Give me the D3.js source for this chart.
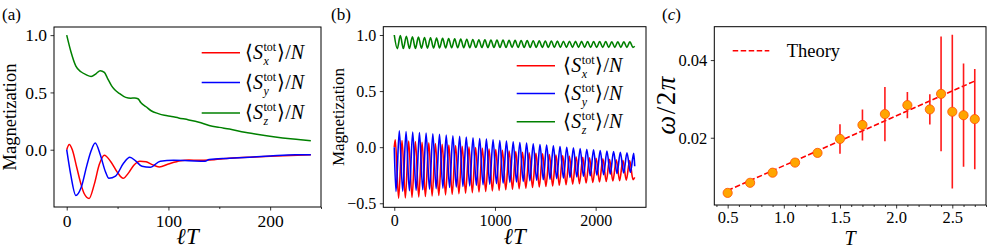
<!DOCTYPE html>
<html>
<head>
<meta charset="utf-8">
<script src="https://cdn.jsdelivr.net/npm/d3@7"></script>
<style>
  body { margin: 0; background: #fff; }
  svg { display: block; font-family: "Liberation Serif", "Times New Roman", serif; }
  text { font-family: "Liberation Serif", "Times New Roman", serif; fill: #000; }
</style>
</head>
<body>
<svg id="fig" width="996" height="249"></svg>
<script>
// ---- panel (a): magnetization vs lT, short run ----
const aSxTime = [0, 2.5, 5.5, 10, 14, 17, 22, 27, 32, 37, 43, 50, 55.5, 61, 66, 72, 78, 84, 91, 100, 112, 120, 130, 140, 160, 180, 200, 220, 240];
const aSx = [0, 0.045, 0.0, -0.16, -0.3, -0.38, -0.425, -0.305, -0.13, -0.048, -0.10, -0.20, -0.25, -0.20, -0.135, -0.10, -0.105, -0.13, -0.15, -0.125, -0.097, -0.09, -0.092, -0.09, -0.075, -0.065, -0.057, -0.05, -0.045];
const aSyTime = [0, 4, 9, 14, 20, 24, 28, 33, 38, 41.5, 48, 56, 62, 68, 74, 82, 92, 105, 120, 136, 140, 160, 180, 200, 225, 240];
const aSy = [0, -0.22, -0.40, -0.335, -0.13, -0.01, 0.058, -0.044, -0.19, -0.25, -0.23, -0.116, -0.065, -0.10, -0.145, -0.154, -0.10, -0.093, -0.096, -0.10, -0.085, -0.075, -0.065, -0.055, -0.045, -0.045];
const aSzTime = [0, 4, 9, 14, 19, 24, 29, 33, 37, 40, 44, 47, 52, 58, 63, 67, 70, 73, 78, 83, 90, 96, 103, 110, 120, 130, 140, 150, 160, 175, 190, 205, 220, 230, 240];
const aSz = [1.0, 0.86, 0.73, 0.68, 0.655, 0.64, 0.665, 0.69, 0.675, 0.625, 0.56, 0.525, 0.49, 0.457, 0.45, 0.452, 0.445, 0.41, 0.375, 0.34, 0.315, 0.30, 0.29, 0.277, 0.26, 0.24, 0.212, 0.195, 0.18, 0.152, 0.13, 0.111, 0.096, 0.088, 0.079];

// ---- panel (b): long run, turning points of the oscillations ----
const bSxTimes = [10, 43, 77, 110, 143, 176, 210, 243, 276, 309,
  343, 376, 409, 442, 476, 509, 542, 575, 609, 642,
  675, 708, 742, 775, 808, 841, 875, 908, 941, 974,
  1008, 1041, 1074, 1107, 1141, 1174, 1207, 1240, 1274, 1307,
  1340, 1373, 1407, 1440, 1473, 1506, 1540, 1573, 1606, 1639,
  1673, 1706, 1739, 1772, 1806, 1839, 1872, 1905, 1939, 1972,
  2005, 2038, 2072, 2105, 2138, 2171, 2205, 2238, 2271, 2304,
  2338, 2371];
const bSxPeaks = [0.065, 0.06, 0.055, 0.05, 0.044, 0.038, 0.032, 0.026, 0.02, 0.014,
  0.008, 0.002, -0.004, -0.01, -0.016, -0.022, -0.028, -0.034, -0.04, -0.045,
  -0.05, -0.055, -0.06, -0.065, -0.07, -0.075, -0.08, -0.085, -0.09, -0.095,
  -0.1, -0.104, -0.108, -0.112, -0.116, -0.12];
const bSxTroughs = [-0.455, -0.452, -0.448, -0.444, -0.44, -0.435, -0.43, -0.425, -0.42, -0.415,
  -0.41, -0.405, -0.40, -0.395, -0.39, -0.385, -0.38, -0.375, -0.37, -0.365,
  -0.36, -0.355, -0.35, -0.345, -0.34, -0.335, -0.33, -0.325, -0.32, -0.315,
  -0.31, -0.306, -0.302, -0.298, -0.294, -0.29];
const bSyTimes = [17, 50, 84, 117, 150, 183, 217, 250, 283, 316,
  350, 383, 416, 449, 483, 516, 549, 582, 616, 649,
  682, 715, 749, 782, 815, 848, 882, 915, 948, 981,
  1015, 1048, 1081, 1114, 1148, 1181, 1214, 1247, 1281, 1314,
  1347, 1380, 1414, 1447, 1480, 1513, 1547, 1580, 1613, 1646,
  1680, 1713, 1746, 1779, 1813, 1846, 1879, 1912, 1946, 1979,
  2012, 2045, 2079, 2112, 2145, 2178, 2212, 2245, 2278, 2311,
  2345, 2378];
const bSyTroughs = [-0.395, -0.392, -0.388, -0.384, -0.38, -0.375, -0.37, -0.365, -0.36, -0.355,
  -0.35, -0.345, -0.34, -0.335, -0.33, -0.325, -0.32, -0.315, -0.31, -0.305,
  -0.30, -0.295, -0.29, -0.285, -0.28, -0.275, -0.27, -0.265, -0.26, -0.255,
  -0.25, -0.245, -0.24, -0.235, -0.23, -0.225];
const bSyPeaks = [0.145, 0.14, 0.135, 0.13, 0.125, 0.12, 0.114, 0.108, 0.102, 0.096,
  0.09, 0.084, 0.078, 0.072, 0.066, 0.06, 0.054, 0.048, 0.042, 0.036,
  0.03, 0.024, 0.018, 0.012, 0.006, 0, -0.006, -0.012, -0.018, -0.024,
  -0.03, -0.035, -0.04, -0.045, -0.05, -0.055];
const bSzTimes = [0, 30, 60, 90, 120, 150, 180, 210, 240, 270,
  300, 330, 360, 390, 420, 450, 480, 510, 540, 570,
  600, 630, 660, 690, 720, 750, 780, 810, 840, 870,
  900, 930, 960, 990, 1020, 1050, 1080, 1110, 1140, 1170,
  1200, 1230, 1260, 1290, 1320, 1350, 1380, 1410, 1440, 1470,
  1500, 1530, 1560, 1590, 1620, 1650, 1680, 1710, 1740, 1770,
  1800, 1830, 1860, 1890, 1920, 1950, 1980, 2010, 2040, 2070,
  2100, 2130, 2160, 2190, 2220, 2250, 2280, 2310, 2340, 2370];
const bSzPeaks = [1.0, 0.994, 0.989, 0.985, 0.981, 0.978, 0.975, 0.972, 0.97, 0.968,
  0.966, 0.964, 0.962, 0.96, 0.958, 0.957, 0.956, 0.955, 0.954, 0.953,
  0.952, 0.951, 0.95, 0.949, 0.948, 0.947, 0.946, 0.945, 0.944, 0.944,
  0.943, 0.943, 0.942, 0.942, 0.941, 0.941, 0.94, 0.94, 0.94, 0.94];
const bSzTroughs = [0.878, 0.879, 0.88, 0.881, 0.882, 0.883, 0.884, 0.885, 0.885, 0.886,
  0.886, 0.887, 0.887, 0.888, 0.888, 0.888, 0.889, 0.889, 0.889, 0.89,
  0.89, 0.89, 0.89, 0.89, 0.89, 0.89, 0.89, 0.89, 0.89, 0.89,
  0.89, 0.89, 0.89, 0.89, 0.89, 0.89, 0.89, 0.89, 0.89, 0.89];
const bStart = { x: [0, 0], y: [0, 0], z: [0, 1.0] };
const bEnd = { x: [2388, -0.27], y: [2388, -0.17], z: [2388, 0.9] };

// ---- panel (c): precession frequency vs T ----
const cT = [0.5, 0.7, 0.9, 1.1, 1.3, 1.5, 1.7, 1.9, 2.1, 2.3, 2.4, 2.5, 2.6, 2.7];
const cOmega = [0.0058, 0.0084, 0.011, 0.0136, 0.0161, 0.0197, 0.0233, 0.0261, 0.0284, 0.0273, 0.0313, 0.0267, 0.0258, 0.0248];
const cErr = [0.0006, 0.0004, 0.0004, 0.0004, 0.0004, 0.0038, 0.004, 0.007, 0.0034, 0.0039, 0.0148, 0.0198, 0.0133, 0.0129];
const theoryT = [0.5, 2.7];
const theoryOmega = [0.0064, 0.0346];

const colors = { x: "#ff0000", y: "#0000ff", z: "#008000" };
const FONT = '"Liberation Serif", "Times New Roman", serif';

const svg = d3.select("#fig");
svg.append("rect").attr("width", 996).attr("height", 249).attr("fill", "#fff");

// build alternating turning-point series
function turning(times, first, second, start, end) {
  const pts = [start];
  times.forEach((t, j) => {
    const v = j % 2 === 0 ? first[j / 2] : second[(j - 1) / 2];
    pts.push([t, v]);
  });
  pts.push(end);
  return pts;
}

function txt(g, fs) {
  return g.append("text").style("font-family", FONT).style("font-size", fs + "px");
}

function textWidth(g, str, fs, italic) {
  const t = txt(g, fs).style("font-style", italic ? "italic" : "normal").text(str);
  const w = t.node().getComputedTextLength();
  t.remove();
  return w;
}

function makePanel(cfg) {
  const x = d3.scaleLinear().domain(cfg.xDomain).range([cfg.left, cfg.right]);
  const y = d3.scaleLinear().domain(cfg.yDomain).range([cfg.bottom, cfg.top]);
  const g = svg.append("g");
  const id = "clip" + cfg.name;
  g.append("clipPath").attr("id", id).append("rect")
    .attr("x", cfg.left).attr("y", cfg.top)
    .attr("width", cfg.right - cfg.left).attr("height", cfg.bottom - cfg.top);
  const plot = g.append("g").attr("clip-path", `url(#${id})`);

  const ax = g.append("g").attr("transform", `translate(0,${cfg.bottom})`)
    .call(d3.axisBottom(x).tickValues(cfg.xTicks).tickFormat(cfg.xFmt).tickSize(3.5).tickPadding(cfg.xPad || 4));
  const ay = g.append("g").attr("transform", `translate(${cfg.left},0)`)
    .call(d3.axisLeft(y).tickValues(cfg.yTicks).tickFormat(cfg.yFmt).tickSize(3.5).tickPadding(3.5));
  const axes = [ax, ay];
  if (cfg.xMinor) {
    axes.push(g.append("g").attr("transform", `translate(0,${cfg.bottom})`)
      .call(d3.axisBottom(x).tickValues(cfg.xMinor).tickFormat("").tickSize(2)));
  }
  axes.forEach((a) => {
    a.attr("font-family", null).attr("font-size", null);
    a.select(".domain").remove();
    a.selectAll("line").attr("stroke", "#000").attr("stroke-width", 0.8);
    a.selectAll("text").style("font-family", FONT).style("font-size", cfg.tickFs + "px");
  });

  g.append("rect")
    .attr("x", cfg.left).attr("y", cfg.top)
    .attr("width", cfg.right - cfg.left).attr("height", cfg.bottom - cfg.top)
    .attr("fill", "none").attr("stroke", "#000").attr("stroke-width", 1);

  // panel tag
  const tag = txt(g, 17).attr("x", cfg.tagX).attr("y", 20);
  tag.append("tspan").text("(");
  tag.append("tspan").style("font-style", cfg.tagItalic ? "italic" : "normal").text(cfg.name);
  tag.append("tspan").text(")");

  return { x, y, g, plot };
}

// ⟨S^tot_k⟩/N as one text element, sub and superscript stacked with dx
function spinLabel(g, x0, base, sub, fs) {
  const small = fs * 0.6;
  const wTot = textWidth(g, "tot", small, false);
  const wSub = textWidth(g, sub, small, true);
  const t = txt(g, fs).attr("x", x0).attr("y", base);
  t.append("tspan").text("\u27E8");
  t.append("tspan").style("font-style", "italic").text("S");
  t.append("tspan").attr("dx", 0.5).attr("dy", -fs * 0.4).style("font-size", small + "px").text("tot");
  t.append("tspan").attr("dx", -wTot).attr("dy", fs * 0.7)
    .style("font-size", small + "px").style("font-style", "italic").text(sub);
  t.append("tspan").attr("dx", wTot - wSub + 1).attr("dy", -fs * 0.3).text("\u27E9/");
  t.append("tspan").style("font-style", "italic").text("N");
}

function legendLines(g, items, x1, x2, ys, dashed) {
  items.forEach((c, i) => {
    g.append("line").attr("x1", x1).attr("x2", x2).attr("y1", ys[i]).attr("y2", ys[i])
      .attr("stroke", c).attr("stroke-width", 1.6)
      .attr("stroke-dasharray", dashed ? "5.5,2.5" : null);
  });
}

// rotated y label, centred by measuring its length
function yLabel(g, x, yc, fs, build) {
  const t = txt(g, fs);
  build(t);
  const len = t.node().getComputedTextLength();
  t.attr("transform", `translate(${x},${yc}) rotate(-90)`).attr("x", -len / 2).attr("y", 0);
}

const line = (px, py) => d3.line().x((d) => px(d[0])).y((d) => py(d[1])).curve(d3.curveMonotoneX);

// ================= panel (a) =================
const A = makePanel({
  name: "a", left: 54, right: 321, top: 27, bottom: 207,
  xDomain: [-12.5, 250], yDomain: [-0.5, 1.071],
  xTicks: [0, 100, 200], xMinor: [50, 150, 250], yTicks: [0, 0.5, 1.0],
  xFmt: d3.format("d"), yFmt: d3.format(".1f"), tickFs: 17.5, tagX: 2
});
[[aSxTime, aSx, colors.x], [aSyTime, aSy, colors.y], [aSzTime, aSz, colors.z]].forEach(([t, v, c]) => {
  A.plot.append("path").datum(d3.zip(t, v)).attr("fill", "none").attr("stroke", c)
    .attr("stroke-width", 1.5).attr("d", line(A.x, A.y));
});
const aLegY = [52.7, 82.5, 113];
legendLines(A.g, [colors.x, colors.y, colors.z], 201.7, 240, aLegY);
["x", "y", "z"].forEach((k, i) => spinLabel(A.g, 245, aLegY[i] + 6, k, 20));
yLabel(A.g, 16, 117, 18.5, (t) => t.text("Magnetization"));
txt(A.g, 23).attr("x", 187.5).attr("y", 244).attr("text-anchor", "middle")
  .style("font-style", "italic").text("\u2113T");

// ================= panel (b) =================
const B = makePanel({
  name: "b", left: 383.3, right: 646, top: 26.7, bottom: 207.3,
  xDomain: [-109, 2500], yDomain: [-0.536, 1.074],
  xTicks: [0, 1000, 2000], yTicks: [-0.5, 0, 0.5, 1.0],
  xFmt: d3.format("d"), yFmt: d3.format(".1f"), tickFs: 16, tagX: 331
});
const bSx = turning(bSxTimes, bSxPeaks, bSxTroughs, bStart.x, bEnd.x);
const bSy = turning(bSyTimes, bSyTroughs, bSyPeaks, bStart.y, bEnd.y);
const bSz = turning(bSzTimes, bSzPeaks, bSzTroughs, bStart.z, bEnd.z);
[[bSx, colors.x], [bSy, colors.y], [bSz, colors.z]].forEach(([d, c]) => {
  B.plot.append("path").datum(d).attr("fill", "none").attr("stroke", c)
    .attr("stroke-width", 1.6).attr("d", line(B.x, B.y));
});
const bLegY = [65.7, 93.5, 121.7];
legendLines(B.g, [colors.x, colors.y, colors.z], 516.7, 555, bLegY);
["x", "y", "z"].forEach((k, i) => spinLabel(B.g, 563.3, bLegY[i] + 6, k, 20));
yLabel(B.g, 344, 117, 17, (t) => t.text("Magnetization"));
txt(B.g, 23).attr("x", 514.7).attr("y", 244).attr("text-anchor", "middle")
  .style("font-style", "italic").text("\u2113T");

// ================= panel (c) =================
const C = makePanel({
  name: "c", left: 714.3, right: 986, top: 26.7, bottom: 205,
  xDomain: [0.381, 2.80], yDomain: [0.00268, 0.0486],
  xTicks: [0.5, 1.0, 1.5, 2.0, 2.5],
  xMinor: [0.4, 0.6, 0.7, 0.8, 0.9, 1.1, 1.2, 1.3, 1.4, 1.6, 1.7, 1.8, 1.9, 2.1, 2.2, 2.3, 2.4, 2.6, 2.7, 2.8],
  yTicks: [0.02, 0.04], xPad: 2.5,
  xFmt: d3.format(".1f"), yFmt: d3.format(".2f"), tickFs: 16.5, tagX: 662, tagItalic: true
});
C.plot.append("path").datum(d3.zip(theoryT, theoryOmega)).attr("fill", "none")
  .attr("stroke", "#ff0000").attr("stroke-width", 1.6).attr("stroke-dasharray", "5.5,2.5")
  .attr("d", d3.line().x((d) => C.x(d[0])).y((d) => C.y(d[1])));
const cData = cT.map((t, i) => ({ t, w: cOmega[i], e: cErr[i] }));
C.plot.selectAll("line.err").data(cData).join("line").attr("class", "err")
  .attr("x1", (d) => C.x(d.t)).attr("x2", (d) => C.x(d.t))
  .attr("y1", (d) => C.y(d.w - d.e)).attr("y2", (d) => C.y(d.w + d.e))
  .attr("stroke", "#ff1a1a").attr("stroke-width", 1.6);
C.plot.selectAll("circle").data(cData).join("circle")
  .attr("cx", (d) => C.x(d.t)).attr("cy", (d) => C.y(d.w)).attr("r", 4.6)
  .attr("fill", "#ffa500").attr("stroke", "#ff5000").attr("stroke-width", 0.8);
legendLines(C.g, ["#ff0000"], 732.7, 769.3, [50.7], true);
txt(C.g, 18.5).attr("x", 786.7).attr("y", 57).text("Theory");
yLabel(C.g, 675, 105, 27, (t) => {
  t.style("letter-spacing", "1.5px");
  t.append("tspan").style("font-style", "italic").text("\u03C9");
  t.append("tspan").text("/2");
  t.append("tspan").style("font-style", "italic").text("\u03C0");
});
txt(C.g, 20).attr("x", 850).attr("y", 244.6).attr("text-anchor", "middle")
  .style("font-style", "italic").text("T");
</script>
</body>
</html>
